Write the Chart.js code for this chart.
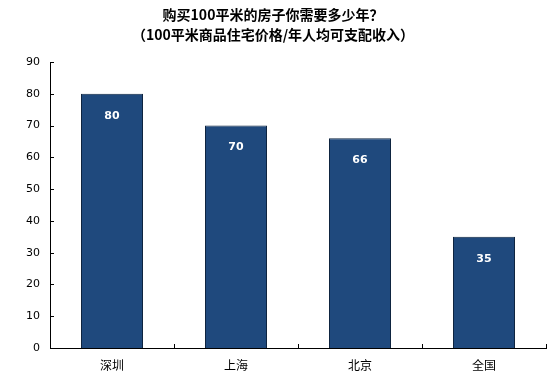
<!DOCTYPE html>
<html>
<head>
<meta charset="utf-8">
<script src="https://cdn.jsdelivr.net/npm/chart.js@4/dist/chart.umd.min.js"></script>
<style>
html,body{margin:0;padding:0;background:#fff;}
#wrap{width:553px;height:380px;position:relative;}
</style>
</head>
<body>
<div id="wrap"><canvas id="c" width="553" height="380"></canvas></div>
<script>
const titleLines = ["购买100平米的房子你需要多少年？", "（100平米商品住宅价格/年人均可支配收入）"];
const categories = ["深圳", "上海", "北京", "全国"];
const years = [80, 70, 66, 35];
const yTicks = [0, 10, 20, 30, 40, 50, 60, 70, 80, 90];

const CJK = "'Noto Sans CJK SC', sans-serif";

const insideTicks = {
  id: 'insideTicks',
  afterDraw(chart) {
    const ctx = chart.ctx;
    const x = chart.scales.x, y = chart.scales.y;
    const a = chart.chartArea;
    ctx.save();
    ctx.strokeStyle = '#000';
    ctx.lineWidth = 1;
    ctx.beginPath();
    yTicks.forEach(v => {
      const py = Math.round(y.getPixelForValue(v)) + 0.5;
      ctx.moveTo(a.left, py);
      ctx.lineTo(a.left + 4, py);
    });
    for (let i = 0; i < categories.length; i++) {
      const px = Math.round(x.getPixelForValue(i) + (x.getPixelForValue(1) - x.getPixelForValue(0)) / 2) + 0.5;
      ctx.moveTo(px, a.bottom);
      ctx.lineTo(px, a.bottom - 4);
    }
    ctx.stroke();
    ctx.restore();
  }
};

const barLabels = {
  id: 'barLabels',
  afterDatasetsDraw(chart) {
    const ctx = chart.ctx;
    const meta = chart.getDatasetMeta(0);
    ctx.save();
    ctx.fillStyle = '#fff';
    ctx.font = "bold 11px 'DejaVu Sans', sans-serif";
    ctx.textAlign = 'center';
    ctx.textBaseline = 'middle';
    meta.data.forEach((bar, i) => {
      ctx.fillText(String(years[i]), bar.x, bar.y + 22);
    });
    ctx.restore();
  }
};

new Chart(document.getElementById('c'), {
  type: 'bar',
  data: {
    labels: categories,
    datasets: [{
      data: years,
      backgroundColor: '#1F497D',
      borderColor: '#0E2440',
      borderWidth: 1,
      borderSkipped: 'bottom',
      barPercentage: 0.5,
      categoryPercentage: 1.0
    }]
  },
  options: {
    responsive: false,
    animation: false,
    events: [],
    layout: { padding: { left: 0, right: 7, top: 0, bottom: 0 } },
    plugins: {
      legend: { display: false },
      tooltip: { enabled: false },
      title: {
        display: true,
        text: titleLines,
        color: '#000',
        font: { family: CJK, size: 14, weight: 'bold', lineHeight: 1.43 },
        padding: { top: 5, bottom: 17 }
      }
    },
    scales: {
      x: {
        type: 'category',
        offset: true,
        grid: { display: false },
        border: { display: true, color: '#000', width: 1 },
        ticks: { color: '#000', padding: 2, font: { family: "'Noto Sans CJK SC', sans-serif", size: 12 } },
        afterFit(s) { s.height = 32; }
      },
      y: {
        min: 0, max: 90,
        grid: { display: false },
        border: { display: true, color: '#000', width: 1 },
        ticks: { stepSize: 10, color: '#000', padding: 2, font: { family: "'DejaVu Sans', sans-serif", size: 11 } },
        afterFit(s) { s.width = 50; }
      }
    }
  },
  plugins: [insideTicks, barLabels]
});
</script>
</body>
</html>
